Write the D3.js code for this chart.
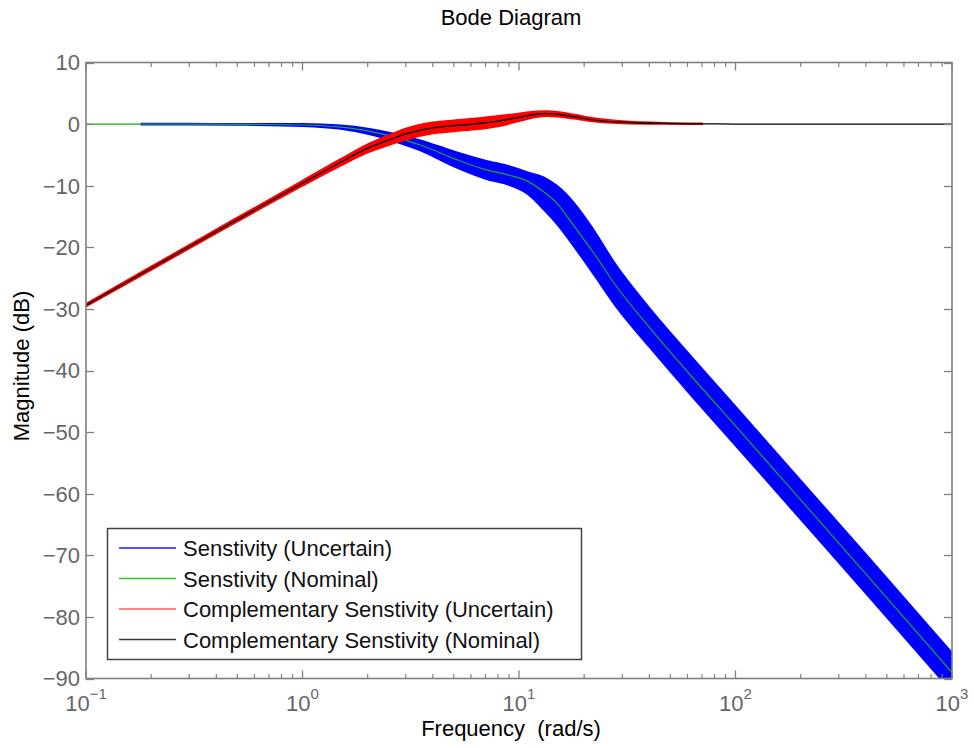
<!DOCTYPE html>
<html>
<head>
<meta charset="utf-8">
<script src="https://cdn.jsdelivr.net/npm/d3@7"></script>
<style>
  html, body { margin: 0; padding: 0; background: #fff; }
  svg { display: block; font-family: "Liberation Sans", Arial, Helvetica, sans-serif; }
</style>
</head>
<body>
<svg id="chart" width="974" height="748"></svg>
<script>
// ---------------- Data ----------------
const title = "Bode Diagram";
const xLabel = "Frequency  (rad/s)";
const yLabel = "Magnitude (dB)";
const yTicks = [10, 0, -10, -20, -30, -40, -50, -60, -70, -80, -90];
const xTickExponents = [-1, 0, 1, 2, 3];

// Sensitivity (Nominal) - green
const sNomFreq = [0.1, 0.3, 0.6, 1, 1.5, 2, 2.7, 3.5, 5, 7, 9, 11, 13, 15, 18, 22, 28, 40, 60, 100, 200, 400, 1000];
const sNomDb   = [0, 0, -0.05, -0.15, -0.5, -1.1, -2.2, -3.4, -5.6, -7.4, -8.3, -9.3, -11.0, -12.9, -16.6, -20.8, -26.2, -33.0, -40.2, -49.0, -61.0, -73.0, -89.0];

// Sensitivity (Uncertain) - blue envelope of the sampled curves
const sUncFreq  = [0.18, 0.3, 0.5, 1, 1.5, 2, 2.7, 3.5, 5, 7, 9, 11, 13, 15, 18, 22, 28, 40, 60, 100, 200, 400, 1000];
const sUncUpper = [0.1, 0.1, 0.05, 0.05, -0.2, -0.7, -1.6, -2.6, -4.4, -5.9, -6.8, -7.8, -8.6, -10.0, -12.8, -17.0, -22.8, -29.8, -37.0, -45.8, -57.8, -69.8, -85.8];
const sUncLower = [-0.1, -0.1, -0.15, -0.35, -0.8, -1.6, -2.9, -4.3, -6.9, -8.9, -9.9, -11.4, -13.9, -16.3, -20.0, -24.3, -29.6, -36.2, -43.4, -52.2, -64.2, -76.2, -92.2];

// Complementary Sensitivity (Nominal) - black
const tNomFreq = [0.1, 0.2, 0.5, 1, 1.5, 2, 2.5, 3, 4, 5, 6.5, 8, 10, 12, 13.5, 15, 18, 22, 30, 50, 70, 100, 1000];
const tNomDb   = [-29.4, -23.4, -15.5, -9.6, -6.2, -3.9, -2.6, -1.6, -0.6, -0.25, 0.1, 0.5, 1.1, 1.6, 1.7, 1.6, 1.2, 0.7, 0.3, 0.1, 0.05, 0, 0];

// Complementary Sensitivity (Uncertain) - red envelope of the sampled curves
const tUncFreq  = [0.1, 0.2, 0.5, 1, 1.5, 2, 2.5, 3, 4, 5, 6.5, 8, 10, 12, 13.5, 15, 18, 22, 30, 50, 70];
const tUncUpper = [-29.2, -23.15, -15.2, -9.2, -5.7, -3.3, -1.85, -0.75, 0.25, 0.6, 0.95, 1.3, 1.7, 2.05, 2.1, 1.95, 1.5, 0.95, 0.45, 0.15, 0.08];
const tUncLower = [-29.6, -23.65, -15.8, -10.0, -6.75, -4.6, -3.4, -2.5, -1.5, -1.15, -0.8, -0.35, 0.5, 1.15, 1.3, 1.25, 0.9, 0.45, 0.15, 0.05, 0.02];

const legendLabels = [
  "Senstivity (Uncertain)",
  "Senstivity (Nominal)",
  "Complementary Senstivity (Uncertain)",
  "Complementary Senstivity (Nominal)"
];
const legendColors = ["#1a1aff", "#2ec82e", "#ff5a5a", "#3a3a3a"];

// ---------------- Layout ----------------
const svg = d3.select("#chart");
const L = 86, R = 952, T = 62.5, B = 678.5;
const axisColor = "#808080";
const tickColor = "#666666";

const x = d3.scaleLog().domain([0.1, 1000]).range([L, R]);
const y = d3.scaleLinear().domain([-90, 10]).range([B, T]);

svg.append("defs").append("clipPath").attr("id", "plotclip")
  .append("rect").attr("x", L).attr("y", T).attr("width", R - L).attr("height", B - T);

const plot = svg.append("g").attr("clip-path", "url(#plotclip)");

const zip = (f, v) => f.map((d, i) => [d, v[i]]);
const line = d3.line().x(d => x(d[0])).y(d => y(d[1])).curve(d3.curveMonotoneX);
const area = d3.area().x(d => x(d[0])).y0(d => y(d[1])).y1(d => y(d[2])).curve(d3.curveMonotoneX);

// Blue uncertain band
const sBand = sUncFreq.map((f, i) => [f, sUncLower[i], sUncUpper[i]]);
plot.append("path").attr("d", area(sBand)).attr("fill", "#0000ff").attr("stroke", "#0000ff").attr("stroke-width", 1.5);

// Green nominal
plot.append("path").attr("d", line(zip(sNomFreq, sNomDb))).attr("fill", "none")
  .attr("stroke", "#1fa81f").attr("stroke-width", 1.2);

// Red uncertain band
const tBand = tUncFreq.map((f, i) => [f, tUncLower[i], tUncUpper[i]]);
plot.append("path").attr("d", area(tBand)).attr("fill", "#ff0000").attr("stroke", "#ff0000").attr("stroke-width", 2);

// Black nominal
plot.append("path").attr("d", line(zip(tNomFreq, tNomDb))).attr("fill", "none")
  .attr("stroke", "#000000").attr("stroke-width", 1.3);

// ---------------- Axes ----------------
const ax = svg.append("g").attr("stroke", axisColor).attr("fill", "none");
ax.append("rect").attr("x", L).attr("y", T).attr("width", R - L).attr("height", B - T).attr("stroke-width", 1.6);

// Y ticks (left and right, inward)
yTicks.forEach(v => {
  const yy = Math.round(y(v)) + 0.5;
  ax.append("line").attr("x1", L).attr("x2", L + 8).attr("y1", yy).attr("y2", yy).attr("stroke-width", 1.3);
  ax.append("line").attr("x1", R - 8).attr("x2", R).attr("y1", yy).attr("y2", yy).attr("stroke-width", 1.3);
});

// X ticks major + minor (bottom and top, inward)
xTickExponents.forEach((e, k) => {
  const base = Math.pow(10, e);
  const xx = x(base);
  ax.append("line").attr("x1", xx).attr("x2", xx).attr("y1", B).attr("y2", B - 8).attr("stroke-width", 1.3);
  ax.append("line").attr("x1", xx).attr("x2", xx).attr("y1", T).attr("y2", T + 8).attr("stroke-width", 1.3);
  if (k < xTickExponents.length - 1) {
    for (let m = 2; m <= 9; m++) {
      const xm = x(base * m);
      ax.append("line").attr("x1", xm).attr("x2", xm).attr("y1", B).attr("y2", B - 4.5).attr("stroke-width", 1.2);
      ax.append("line").attr("x1", xm).attr("x2", xm).attr("y1", T).attr("y2", T + 4.5).attr("stroke-width", 1.2);
    }
  }
});

// Y tick labels
svg.append("g").selectAll("text").data(yTicks).join("text")
  .attr("x", 80).attr("y", d => y(d)).attr("dy", "0.36em")
  .attr("text-anchor", "end").attr("font-size", 22).attr("fill", tickColor)
  .text(d => d < 0 ? "\u2212" + Math.abs(d) : String(d));

// X tick labels 10^e
const xl = svg.append("g").selectAll("text").data(xTickExponents).join("text")
  .attr("x", d => x(Math.pow(10, d))).attr("y", 711)
  .attr("text-anchor", "middle").attr("font-size", 22).attr("fill", tickColor);
xl.append("tspan").text("10");
xl.append("tspan").attr("dy", -12).attr("font-size", 15).text(d => d < 0 ? "\u2212" + Math.abs(d) : String(d));

// Title and axis labels
svg.append("text").attr("x", 511).attr("y", 25).attr("text-anchor", "middle")
  .attr("font-size", 22).attr("fill", "#000").text(title);
svg.append("text").attr("x", 511).attr("y", 736).attr("text-anchor", "middle")
  .attr("font-size", 22).attr("fill", "#000").style("white-space", "pre").text(xLabel);
svg.append("text").attr("transform", "translate(29,366) rotate(-90)").attr("text-anchor", "middle")
  .attr("font-size", 22).attr("fill", "#000").text(yLabel);

// ---------------- Legend ----------------
const lg = svg.append("g");
lg.append("rect").attr("x", 107.5).attr("y", 528.5).attr("width", 474).attr("height", 131)
  .attr("fill", "#fff").attr("stroke", "#444").attr("stroke-width", 1.5);
legendLabels.forEach((lab, i) => {
  const cy = 548 + i * 30.5;
  lg.append("line").attr("x1", 119).attr("x2", 176).attr("y1", cy).attr("y2", cy)
    .attr("stroke", legendColors[i]).attr("stroke-width", 1.5);
  lg.append("text").attr("x", 183).attr("y", cy + 8).attr("font-size", 22).attr("fill", "#111").text(lab);
});
</script>
</body>
</html>
